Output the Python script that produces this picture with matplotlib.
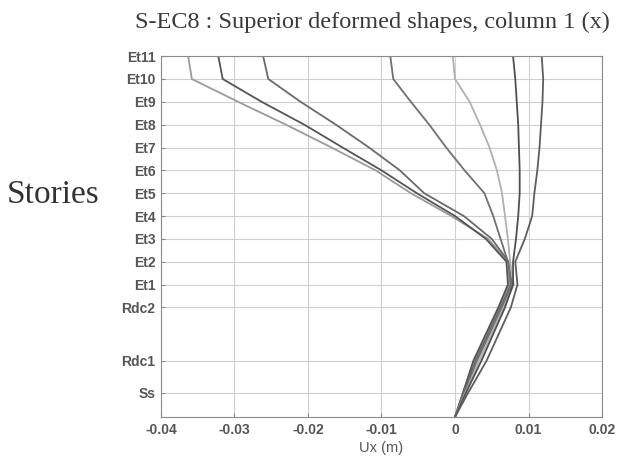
import matplotlib
matplotlib.use("Agg")
import matplotlib.pyplot as plt

# story levels (m) and their labels
levels = [0, 3.2, 7.4, 14.4, 17.4, 20.4, 23.4, 26.4, 29.4, 32.4, 35.4, 38.4, 41.4, 44.4, 47.4]
level_names = ["", "Ss", "Rdc1", "Rdc2", "Et1", "Et2", "Et3", "Et4", "Et5",
               "Et6", "Et7", "Et8", "Et9", "Et10", "Et11"]

# deformed shapes, Ux (m), bottom -> top
shape1 = [0, 0.0011, 0.0026, 0.0060, 0.0074, 0.0072, 0.0045, -0.0005, -0.0060,
          -0.0108, -0.0168, -0.0230, -0.0295, -0.0358, -0.0363]
shape2 = [0, 0.0011, 0.0025, 0.0059, 0.0072, 0.0070, 0.0042, 0.0000, -0.0052,
          -0.0100, -0.0153, -0.0205, -0.0263, -0.0316, -0.0322]
shape3 = [0, 0.0012, 0.0028, 0.0062, 0.0076, 0.0073, 0.0050, 0.0012, -0.0042,
          -0.0075, -0.0117, -0.0162, -0.0210, -0.0254, -0.0261]
shape4 = [0, 0.0013, 0.0030, 0.0064, 0.0078, 0.0072, 0.0062, 0.0052, 0.0040,
          0.0013, -0.0012, -0.0035, -0.0060, -0.0084, -0.0088]
shape5 = [0, 0.0014, 0.0033, 0.0066, 0.0080, 0.0075, 0.0072, 0.0068, 0.0064,
          0.0057, 0.0047, 0.0034, 0.0020, 0.0000, -0.0003]
shape6 = [0, 0.0015, 0.0036, 0.0068, 0.0079, 0.0079, 0.0083, 0.0086, 0.0088,
          0.0088, 0.0087, 0.0086, 0.0084, 0.0082, 0.0079]
shape7 = [0, 0.0018, 0.0043, 0.0076, 0.0085, 0.0082, 0.0095, 0.0105, 0.0108,
          0.0112, 0.0115, 0.0117, 0.0119, 0.0120, 0.0118]

shapes = [shape1, shape2, shape3, shape4, shape5, shape6, shape7]
greys = ["#9a9a9a", "#555555", "#6a6a6a", "#707070", "#b0b0b0", "#505050", "#5e5e5e"]

fig = plt.figure(figsize=(6.23, 4.68), dpi=100)
ax = fig.add_axes([0.2584, 0.109, 0.7079, 0.771])

for s, c in zip(shapes, greys):
    ax.plot(s, levels, color=c, lw=1.3)

ax.set_xlim(-0.04, 0.02)
ax.set_ylim(0, 47.4)
ax.set_xticks([-0.04, -0.03, -0.02, -0.01, 0, 0.01, 0.02])
ax.set_xticklabels(["-0.04", "-0.03", "-0.02", "-0.01", "0", "0.01", "0.02"])
ax.set_yticks(levels[1:])
ax.set_yticklabels(level_names[1:])
ax.grid(True, color="#cfcfcf", lw=0.8)
ax.set_axisbelow(True)
for sp in ax.spines.values():
    sp.set_color("#8a8a8a")
ax.tick_params(direction="in", length=3, color="#8a8a8a", pad=4)
for lab in ax.get_xticklabels() + ax.get_yticklabels():
    lab.set_family("Liberation Sans")
    lab.set_fontweight("bold")
    lab.set_color("#555555")
    lab.set_fontsize(10)

ax.set_xlabel("Ux (m)", family="Liberation Sans", color="#555555", fontsize=10.5, labelpad=3)
ax.set_title("S-EC8 : Superior deformed shapes, column 1 (x)", x=0.48,
             family="Liberation Serif", color="#3a3a3a", fontsize=17.5, pad=20)
fig.text(7 / 623, 1 - 195 / 468, "Stories", family="Liberation Serif",
         fontsize=24, color="#333333", ha="left", va="center")

fig.savefig("out.png", dpi=100)
